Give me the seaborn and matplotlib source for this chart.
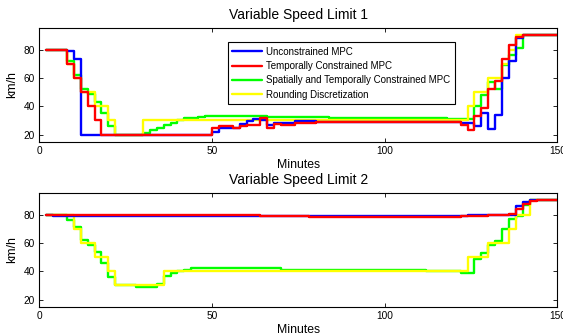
import matplotlib
matplotlib.use("Agg")
import matplotlib.pyplot as plt
import pandas as pd
import seaborn as sns

# cambios de escalon (minuto, km/h)
T_END = 150

# Variable Speed Limit 1
unc1_t = [2, 8, 10, 12, 50, 52, 54, 56, 58, 60, 62, 64, 66, 68, 74, 80, 122, 126, 128, 130, 132, 134, 136, 138, 140]
unc1_v = [80, 79, 73, 20, 22, 24.5, 25, 24.5, 27.5, 29.5, 31, 30, 27, 28, 29.5, 29, 28, 26, 35, 24, 34, 60, 72, 88, 90]
tmp1_t = [2, 8, 10, 12, 14, 16, 18, 50, 52, 56, 58, 60, 64, 66, 68, 70, 74, 80, 122, 124, 126, 128, 130, 132, 134, 136, 138, 140]
tmp1_v = [80, 70, 60, 50, 40, 30, 20, 24.5, 26, 25, 26, 26.5, 31.5, 25, 27.5, 27, 28, 29, 26.5, 23, 33, 39, 52, 58, 73, 83, 89, 90]
spt1_t = [2, 8, 10, 12, 14, 16, 18, 20, 22, 30, 32, 34, 36, 38, 40, 42, 44, 46, 48, 52,
          66, 84, 104, 118, 126, 128, 130, 132, 134, 136, 138, 140]
spt1_v = [80, 72, 62, 52, 48.5, 43, 35.5, 26, 20, 21, 23, 24.5, 26.5, 28.5, 30.5, 31.5, 32, 32.5, 32.8, 33,
          32.5, 32, 31.5, 31, 40, 48, 57, 52, 69, 76, 81, 90]
rnd1_t = [2, 8, 10, 12, 16, 20, 22, 30, 124, 126, 130, 134, 136, 138]
rnd1_v = [80, 70, 60, 50, 40, 30, 20, 30, 40, 50, 60, 70, 80, 90]

# Variable Speed Limit 2
unc2_t = [2, 4, 124, 132, 138, 140, 142]
unc2_v = [80, 79.3, 79.5, 79.8, 86, 89, 90]
tmp2_t = [2, 52, 64, 78, 122, 130, 136, 138, 140, 142, 144]
tmp2_v = [80, 79.5, 79, 78.5, 79, 79.5, 80.2, 84, 87.5, 89.5, 90]
spt2_t = [2, 8, 10, 12, 14, 16, 18, 20, 22, 28, 34, 36, 38, 40, 42, 44, 48, 58, 70, 100,
          112, 122, 126, 128, 130, 132, 134, 136, 138, 140, 142]
spt2_v = [80, 76, 71, 62, 58.5, 53.5, 46, 36, 30, 28.6, 31, 36.5, 38.5, 40, 41, 42, 42.5, 42, 41, 41,
          40, 39, 48.5, 53, 58.5, 61.5, 70, 77, 79, 87, 90]
rnd2_t = [2, 10, 12, 16, 20, 22, 36, 124, 130, 136, 138, 142]
rnd2_v = [80, 70, 60, 50, 40, 30, 40, 50, 60, 70, 80, 90]

nombres = ["Unconstrained MPC", "Temporally Constrained MPC",
           "Spatially and Temporally Constrained MPC", "Rounding Discretization"]
colores = ["#0000ff", "#ff0000", "#00ff00", "#ffff00"]
zorden = [3, 4, 1, 2]

sns.set_style("ticks")
plt.rcParams["font.family"] = ["Liberation Sans", "DejaVu Sans"]
plt.rcParams.update({"text.color": "black", "axes.labelcolor": "black",
                     "xtick.color": "black", "ytick.color": "black"})


def escalones(t, v):
    return pd.DataFrame({"Minutes": list(t) + [T_END], "km/h": list(v) + [v[-1]]})


def dibujar(ax, series, titulo, con_leyenda):
    handles = []
    for (t, v), nombre, c, z in zip(series, nombres, colores, zorden):
        sns.lineplot(data=escalones(t, v), x="Minutes", y="km/h", ax=ax, color=c,
                     lw=1.7, drawstyle="steps-post", errorbar=None, zorder=z)
        handles.append(ax.lines[-1])
    ax.set_xlim(0, 150)
    ax.set_ylim(15, 95)
    ax.set_xticks([0, 50, 100, 150])
    ax.set_yticks([20, 40, 60, 80])
    ax.tick_params(direction="in", top=True, right=True, length=3, width=0.6,
                   labelsize=7.3, pad=3)
    for s in ax.spines.values():
        s.set_linewidth(0.8)
        s.set_color("black")
    ax.set_title(titulo, fontsize=10, pad=7)
    ax.set_xlabel("Minutes", fontsize=8.8, labelpad=2)
    ax.set_ylabel("km/h", fontsize=8.8, labelpad=4)
    if con_leyenda:
        leg = ax.legend(handles, nombres, loc="upper left", bbox_to_anchor=(0.364, 0.877),
                        borderaxespad=0, fontsize=7, fancybox=False, framealpha=1,
                        edgecolor="black", handlelength=3.1, borderpad=0.45,
                        labelspacing=0.45, handletextpad=0.4)
        leg.get_frame().set_linewidth(0.8)


fig = plt.figure(figsize=(5.63, 3.36), dpi=100)
ax1 = fig.add_axes([0.0698, 0.5783, 0.9201, 0.3375])
ax2 = fig.add_axes([0.0698, 0.0872, 0.9201, 0.3375])

dibujar(ax1, [(unc1_t, unc1_v), (tmp1_t, tmp1_v), (spt1_t, spt1_v), (rnd1_t, rnd1_v)],
        "Variable Speed Limit 1", True)
dibujar(ax2, [(unc2_t, unc2_v), (tmp2_t, tmp2_v), (spt2_t, spt2_v), (rnd2_t, rnd2_v)],
        "Variable Speed Limit 2", False)

fig.savefig("out.png", dpi=100)
